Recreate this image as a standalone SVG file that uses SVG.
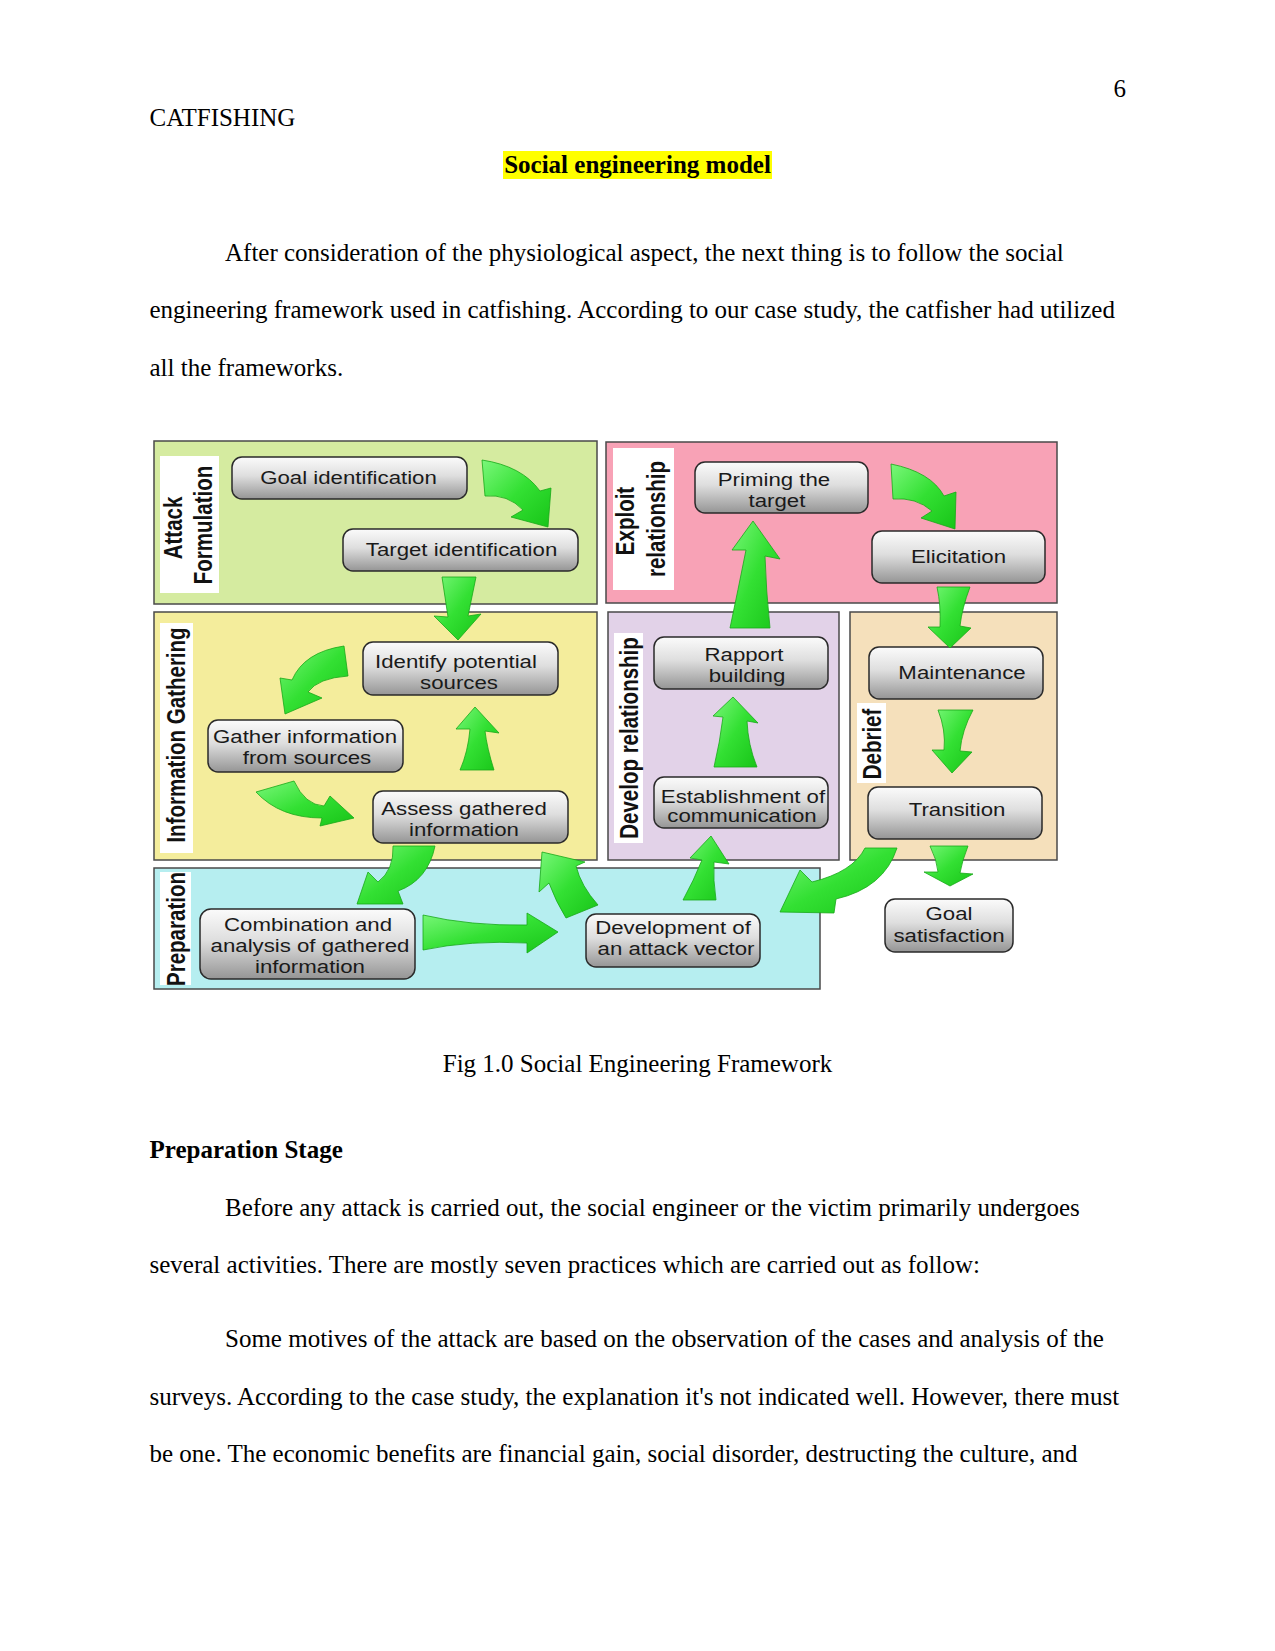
<svg xmlns="http://www.w3.org/2000/svg" width="1275" height="1651" viewBox="0 0 1275 1651">
<style>
.pg{font-family:"Liberation Serif","Times New Roman",serif;font-size:25px;fill:#000}
.b{font-weight:bold}
.panel{stroke:#4a4a4a;stroke-width:1.5}
.lab{fill:#fff}
.vl{font-family:"Liberation Sans",Arial,sans-serif;font-weight:bold;font-size:20.5px;fill:#111;text-anchor:middle}
.box{fill:url(#gbox);stroke:#2a2a2a;stroke-width:1.5}
.bt{font-family:"Liberation Sans",Arial,sans-serif;font-size:17.5px;fill:#1a1a1a;text-anchor:middle}
.arr{fill:url(#garr);stroke:#18a818;stroke-width:0.8;stroke-linejoin:round}
</style>
<defs>
<linearGradient id="gbox" x1="0" y1="0" x2="0" y2="1">
<stop offset="0" stop-color="#fbfbfb"/>
<stop offset="0.45" stop-color="#dedede"/>
<stop offset="1" stop-color="#959595"/>
</linearGradient>
<linearGradient id="garr" x1="0" y1="0" x2="1" y2="1">
<stop offset="0" stop-color="#7af77a"/>
<stop offset="0.5" stop-color="#33e033"/>
<stop offset="1" stop-color="#18c418"/>
</linearGradient>
</defs>
<rect width="1275" height="1651" fill="#fff"/>

<g id="page-text">
<text class="pg" x="1126" y="97" text-anchor="end">6</text>
<text class="pg" x="149.5" y="126">CATFISHING</text>
<rect x="503" y="151" width="269" height="28" fill="#ffff00"/>
<text class="pg b" x="637.5" y="173" text-anchor="middle">Social engineering model</text>
<text class="pg" x="225" y="261">After consideration of the physiological aspect, the next thing is to follow the social</text>
<text class="pg" x="149.5" y="318">engineering framework used in catfishing. According to our case study, the catfisher had utilized</text>
<text class="pg" x="149.5" y="376">all the frameworks.</text>
<text class="pg" x="637.5" y="1072" text-anchor="middle">Fig 1.0 Social Engineering Framework</text>
<text class="pg b" x="149.5" y="1158">Preparation Stage</text>
<text class="pg" x="225" y="1216">Before any attack is carried out, the social engineer or the victim primarily undergoes</text>
<text class="pg" x="149.5" y="1273">several activities. There are mostly seven practices which are carried out as follow:</text>
<text class="pg" x="225" y="1347">Some motives of the attack are based on the observation of the cases and analysis of the</text>
<text class="pg" x="149.5" y="1405">surveys. According to the case study, the explanation it's not indicated well. However, there must</text>
<text class="pg" x="149.5" y="1462">be one. The economic benefits are financial gain, social disorder, destructing the culture, and</text>
</g>

<g id="panel-attack-formulation">
<rect class="panel" x="154" y="441" width="443" height="163" fill="#d5eba0"/>
<rect class="lab" x="160" y="456" width="59" height="137"/>
<text class="vl" transform="matrix(0,-1,1.27,0,182,528)">Attack</text>
<text class="vl" transform="matrix(0,-1,1.27,0,212,525)">Formulation</text>
</g>
<g id="panel-exploit-relationship">
<rect class="panel" x="606" y="442" width="451" height="161" fill="#f8a2b6"/>
<rect class="lab" x="613" y="448" width="61" height="142"/>
<text class="vl" transform="matrix(0,-1,1.27,0,634,521)">Exploit</text>
<text class="vl" transform="matrix(0,-1,1.27,0,665,519)">relationship</text>
</g>
<g id="panel-information-gathering">
<rect class="panel" x="154" y="612" width="443" height="248" fill="#f4ed9c"/>
<rect class="lab" x="160" y="623" width="33" height="230"/>
<text class="vl" transform="matrix(0,-1,1.27,0,185,735)">Information Gathering</text>
</g>
<g id="panel-develop-relationship">
<rect class="panel" x="608" y="612" width="231" height="248" fill="#e2d2e8"/>
<rect class="lab" x="614" y="633" width="29" height="210"/>
<text class="vl" transform="matrix(0,-1,1.27,0,638,738)">Develop relationship</text>
</g>
<g id="panel-debrief">
<rect class="panel" x="850" y="612" width="207" height="248" fill="#f5e0bb"/>
<rect class="lab" x="857" y="703" width="29" height="80"/>
<text class="vl" transform="matrix(0,-1,1.27,0,881,744)">Debrief</text>
</g>
<g id="panel-preparation">
<rect class="panel" x="154" y="868" width="666" height="121" fill="#b6eef0"/>
<rect class="lab" x="160" y="872" width="31" height="113"/>
<text class="vl" transform="matrix(0,-1,1.27,0,185,929)">Preparation</text>
</g>

<g id="node-goal-identification">
<rect class="box" x="232" y="457" width="235" height="42" rx="10"/>
<text class="bt" transform="matrix(1.27,0,0,1,348.5,0)" y="484">Goal identification</text>
</g>
<g id="node-target-identification">
<rect class="box" x="343" y="529" width="235" height="42" rx="10"/>
<text class="bt" transform="matrix(1.27,0,0,1,461.5,0)" y="556">Target identification</text>
</g>
<g id="node-priming-the-target">
<rect class="box" x="695" y="462" width="173" height="51" rx="10"/>
<text class="bt" transform="matrix(1.27,0,0,1,774,0)" y="486">Priming the</text>
<text class="bt" transform="matrix(1.27,0,0,1,777,0)" y="507">target</text>
</g>
<g id="node-elicitation">
<rect class="box" x="872" y="531" width="173" height="52" rx="10"/>
<text class="bt" transform="matrix(1.27,0,0,1,958.5,0)" y="563">Elicitation</text>
</g>
<g id="node-identify-potential-sources">
<rect class="box" x="363" y="642" width="195" height="53" rx="10"/>
<text class="bt" transform="matrix(1.27,0,0,1,456,0)" y="668">Identify potential</text>
<text class="bt" transform="matrix(1.27,0,0,1,459,0)" y="689">sources</text>
</g>
<g id="node-gather-information">
<rect class="box" x="208" y="720" width="195" height="52" rx="10"/>
<text class="bt" transform="matrix(1.27,0,0,1,305,0)" y="743">Gather information</text>
<text class="bt" transform="matrix(1.27,0,0,1,307,0)" y="764">from sources</text>
</g>
<g id="node-assess-gathered-information">
<rect class="box" x="373" y="791" width="195" height="52" rx="10"/>
<text class="bt" transform="matrix(1.27,0,0,1,464,0)" y="815">Assess gathered</text>
<text class="bt" transform="matrix(1.27,0,0,1,464,0)" y="836">information</text>
</g>
<g id="node-rapport-building">
<rect class="box" x="654" y="637" width="174" height="52" rx="10"/>
<text class="bt" transform="matrix(1.27,0,0,1,744,0)" y="661">Rapport</text>
<text class="bt" transform="matrix(1.27,0,0,1,747,0)" y="682">building</text>
</g>
<g id="node-establishment-of-communication">
<rect class="box" x="654" y="777" width="174" height="51" rx="10"/>
<text class="bt" transform="matrix(1.27,0,0,1,743,0)" y="803">Establishment of</text>
<text class="bt" transform="matrix(1.27,0,0,1,742,0)" y="822">communication</text>
</g>
<g id="node-maintenance">
<rect class="box" x="869" y="647" width="174" height="52" rx="10"/>
<text class="bt" transform="matrix(1.27,0,0,1,962,0)" y="679">Maintenance</text>
</g>
<g id="node-transition">
<rect class="box" x="868" y="787" width="174" height="52" rx="10"/>
<text class="bt" transform="matrix(1.27,0,0,1,957,0)" y="816">Transition</text>
</g>
<g id="node-combination-and-analysis">
<rect class="box" x="200" y="909" width="215" height="70" rx="11"/>
<text class="bt" transform="matrix(1.27,0,0,1,308,0)" y="931">Combination and</text>
<text class="bt" transform="matrix(1.27,0,0,1,310,0)" y="952">analysis of gathered</text>
<text class="bt" transform="matrix(1.27,0,0,1,310,0)" y="973">information</text>
</g>
<g id="node-development-of-attack-vector">
<rect class="box" x="586" y="914" width="174" height="53" rx="10"/>
<text class="bt" transform="matrix(1.27,0,0,1,673,0)" y="934">Development of</text>
<text class="bt" transform="matrix(1.27,0,0,1,676,0)" y="955">an attack vector</text>
</g>
<g id="node-goal-satisfaction">
<rect class="box" x="885" y="899" width="128" height="53" rx="10"/>
<text class="bt" transform="matrix(1.27,0,0,1,949,0)" y="920">Goal</text>
<text class="bt" transform="matrix(1.27,0,0,1,949,0)" y="942">satisfaction</text>
</g>

<g id="connectors">
<path class="arr" d="M482,460 Q522,466 540,491 L551,488 L548,527 L511,517 L523,510 Q508,494 485,496 Z"/>
<path class="arr" d="M442,577 L476,577 L468,616 L481,614 L458,640 L434,616 L448,617 Z"/>
<path class="arr" d="M344,646 Q304,652 292,680 L280,678 L285,714 L322,698 L308,692 Q318,678 348,676 Z"/>
<path class="arr" d="M256,792 L294,781 Q305,805 324,806 L330,796 L354,818 L320,826 L322,818 Q280,818 256,792 Z"/>
<path class="arr" d="M460,770 L494,770 Q487,748 485,731 L499,733 L475,707 L456,729 L470,729 Q468,752 460,770 Z"/>
<path class="arr" d="M393,846 L435,846 Q428,880 398,891 L403,904 L357,904 L368,872 L378,882 Q394,870 393,846 Z"/>
<path class="arr" d="M423,915 Q470,926 527,925 L527,913 L558,932 L527,953 L527,943 Q470,940 423,950 Z"/>
<path class="arr" d="M566,918 L598,905 Q581,886 576,866 L585,862 L542,852 L539,892 L549,883 Q556,902 566,918 Z"/>
<path class="arr" d="M683,900 L716,900 Q713,880 714,862 L729,864 L711,836 L690,858 L702,860 Q694,880 683,900 Z"/>
<path class="arr" d="M714,767 L757,767 Q748,745 747,721 L758,723 L733,697 L713,716 L723,717 Q720,742 714,767 Z"/>
<path class="arr" d="M730,628 L770,628 Q766,590 765,556 L780,559 L753,521 L732,550 L746,550 Q738,590 730,628 Z"/>
<path class="arr" d="M891,464 Q931,472 944,496 L956,492 L955,529 L921,518 L932,511 Q916,497 893,499 Z"/>
<path class="arr" d="M937,587 L970,587 Q962,608 960,626 L971,628 L950,648 L928,627 L940,627 Q941,605 937,587 Z"/>
<path class="arr" d="M938,710 L973,710 Q962,730 960,751 L972,752 L952,773 L932,750 L944,750 Q946,730 938,710 Z"/>
<path class="arr" d="M930,846 L968,846 Q962,861 960,873 L973,874 L950,886 L924,872 L938,872 Q937,860 930,846 Z"/>
<path class="arr" d="M865,848 L897,848 Q884,888 836,899 L834,913 L780,912 L800,870 L812,882 Q853,872 865,848 Z"/>
</g>
</svg>
